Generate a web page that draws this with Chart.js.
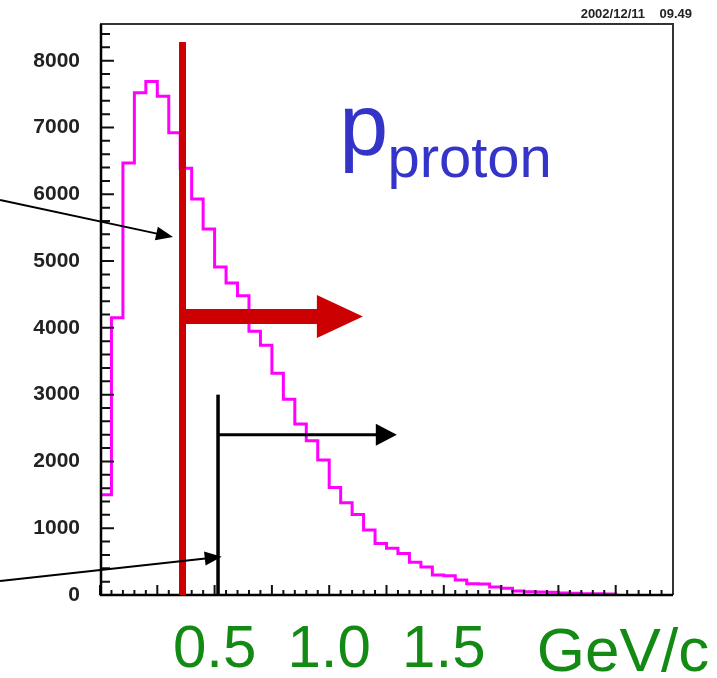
<!DOCTYPE html>
<html>
<head>
<meta charset="utf-8">
<title>p proton</title>
<script src="https://cdn.jsdelivr.net/npm/chart.js@4.4.1/dist/chart.umd.min.js"></script>
<style>
  html, body { margin: 0; padding: 0; background: #fff; overflow: hidden; }
  canvas { display: block; }
</style>
</head>
<body>
<canvas id="protonChart" width="717" height="678"></canvas>
<script>
// proton momentum spectrum, 0.05 GeV/c bins starting at 0
const binWidth = 0.05;
const counts = [1500, 4150, 6470, 7520, 7690, 7470, 6920, 6390, 5930, 5480,
                4910, 4670, 4480, 3950, 3740, 3320, 2930, 2560, 2310, 2020,
                1610, 1380, 1205, 975, 770, 700, 620, 490, 420, 300,
                290, 225, 170, 165, 120, 100, 60, 50, 45, 40,
                30, 25, 20, 20, 15];

const xRange = [0, 2.5];
const yRange = [0, 8550];
const xTickLabels = [0.5, 1.0, 1.5];
const yTickLabels = [0, 1000, 2000, 3000, 4000, 5000, 6000, 7000, 8000];
const xStep = { minor: 0.05, major: 0.25 };
const yStep = { minor: 200, major: 1000 };

// cuts drawn on top (GeV/c, counts)
const redCut = { x: 0.36, top: 8280, arrowY: 4170, arrowTip: 1.147 };
const blackCut = { x: 0.515, top: 3000, arrowY: 2400, arrowTip: 1.295 };
// pointers coming in from the left
const pointers = [
    { from: [-0.436, 5914], to: [0.3185, 5360] },
    { from: [-0.436, 210], to: [0.531, 573] }
];

const green = '#138a13';
const blue = '#3434c8';
const sans = '"Liberation Sans", Arial, sans-serif';

// step points: left edge of every bin, closed down to zero at both ends
let histPoints = [{ x: 0, y: 0 }];
counts.forEach((c, i) => histPoints.push({ x: i * binWidth, y: c }));
histPoints.push({ x: counts.length * binWidth, y: 0 });

function arrowHead(ctx, x0, y0, x1, y1, len, half) {
    const ang = Math.atan2(y1 - y0, x1 - x0);
    ctx.beginPath();
    ctx.moveTo(x1, y1);
    ctx.lineTo(x1 - len * Math.cos(ang) + half * Math.sin(ang), y1 - len * Math.sin(ang) - half * Math.cos(ang));
    ctx.lineTo(x1 - len * Math.cos(ang) - half * Math.sin(ang), y1 - len * Math.sin(ang) + half * Math.cos(ang));
    ctx.closePath();
    ctx.fill();
}

// frame with inward ticks, like ROOT
const rootFrame = {
    id: 'rootFrame',
    afterDatasetsDraw(chart) {
        const { ctx, chartArea: a, scales: { x, y } } = chart;
        ctx.save();
        ctx.strokeStyle = '#111';
        ctx.lineWidth = 2;
        ctx.beginPath();
        const nx = Math.round((xRange[1] - xRange[0]) / xStep.minor);
        const every = Math.round(xStep.major / xStep.minor);
        for (let k = 0; k <= nx; k++) {
            const px = x.getPixelForValue(xRange[0] + k * xStep.minor);
            const len = k % every === 0 ? 10 : 5;
            ctx.moveTo(px, a.bottom);
            ctx.lineTo(px, a.bottom - len);
        }
        const ny = Math.floor((yRange[1] - yRange[0]) / yStep.minor);
        const everyY = Math.round(yStep.major / yStep.minor);
        for (let k = 0; k <= ny; k++) {
            const py = y.getPixelForValue(yRange[0] + k * yStep.minor);
            const len = k % everyY === 0 ? 14 : 10;
            ctx.moveTo(a.left, py);
            ctx.lineTo(a.left + len, py);
        }
        ctx.stroke();

        ctx.strokeStyle = '#333';
        ctx.lineWidth = 2;
        ctx.beginPath();
        ctx.moveTo(a.left, a.top);
        ctx.lineTo(a.right, a.top);
        ctx.lineTo(a.right, a.bottom);
        ctx.stroke();

        ctx.strokeStyle = '#000';
        ctx.lineWidth = 2.5;
        ctx.beginPath();
        ctx.moveTo(a.left + 1, a.top);
        ctx.lineTo(a.left + 1, a.bottom);
        ctx.lineTo(a.right, a.bottom);
        ctx.stroke();
        ctx.restore();
    }
};

// cut lines, arrows and labels
const overlays = {
    id: 'overlays',
    afterDraw(chart) {
        const { ctx, chartArea: a, scales: { x, y } } = chart;
        ctx.save();

        // red cut
        ctx.fillStyle = '#cc0000';
        const rx = x.getPixelForValue(redCut.x);
        ctx.fillRect(rx - 3.5, y.getPixelForValue(redCut.top), 7, a.bottom - y.getPixelForValue(redCut.top));
        const ry = y.getPixelForValue(redCut.arrowY);
        const rtip = x.getPixelForValue(redCut.arrowTip);
        ctx.fillRect(rx, ry - 7.5, rtip - 44 - rx, 15);
        arrowHead(ctx, rx, ry, rtip, ry, 46, 21.5);

        // black cut
        ctx.fillStyle = '#000';
        ctx.strokeStyle = '#000';
        const bx = x.getPixelForValue(blackCut.x);
        ctx.fillRect(bx - 1.75, y.getPixelForValue(blackCut.top), 3.5, a.bottom - y.getPixelForValue(blackCut.top));
        const by = y.getPixelForValue(blackCut.arrowY);
        const btip = x.getPixelForValue(blackCut.arrowTip);
        ctx.lineWidth = 3;
        ctx.beginPath();
        ctx.moveTo(bx, by);
        ctx.lineTo(btip - 18, by);
        ctx.stroke();
        arrowHead(ctx, bx, by, btip, by, 21, 11);

        // pointers from the left
        ctx.lineWidth = 2;
        pointers.forEach(p => {
            const x0 = x.getPixelForValue(p.from[0]), y0 = y.getPixelForValue(p.from[1]);
            const x1 = x.getPixelForValue(p.to[0]), y1 = y.getPixelForValue(p.to[1]);
            const ang = Math.atan2(y1 - y0, x1 - x0);
            ctx.beginPath();
            ctx.moveTo(x0, y0);
            ctx.lineTo(x1 - 14 * Math.cos(ang), y1 - 14 * Math.sin(ang));
            ctx.stroke();
            arrowHead(ctx, x0, y0, x1, y1, 17, 7);
        });

        // p_proton
        ctx.fillStyle = blue;
        ctx.textBaseline = 'alphabetic';
        ctx.textAlign = 'left';
        ctx.font = '88px ' + sans;
        ctx.fillText('p', x.getPixelForValue(1.044), y.getPixelForValue(6588));
        ctx.font = '58px ' + sans;
        ctx.fillText('proton', x.getPixelForValue(1.254), y.getPixelForValue(6258));

        // axis unit
        ctx.fillStyle = green;
        ctx.font = '62px ' + sans;
        ctx.fillText('GeV/c', x.getPixelForValue(1.906), 671);

        // date stamp
        ctx.fillStyle = '#222';
        ctx.font = 'bold 13px ' + sans;
        ctx.textAlign = 'right';
        ctx.fillText('2002/12/11', 645, 18);
        ctx.fillText('09.49', 692, 18);
        ctx.restore();
    }
};

new Chart(document.getElementById('protonChart'), {
    type: 'line',
    data: {
        datasets: [{
            label: 'p proton',
            data: histPoints,
            stepped: 'before',
            borderColor: '#ff00ff',
            borderWidth: 3,
            pointRadius: 0,
            fill: false
        }]
    },
    options: {
        responsive: false,
        animation: false,
        events: [],
        layout: { padding: { top: 24, right: 44, left: 0, bottom: 0 } },
        plugins: { legend: { display: false }, tooltip: { enabled: false } },
        scales: {
            x: {
                type: 'linear',
                min: xRange[0],
                max: xRange[1],
                grid: { display: false, drawTicks: false },
                border: { display: false },
                afterBuildTicks: s => { s.ticks = xTickLabels.map(v => ({ value: v })); },
                afterFit: s => { s.height = 83; s.paddingLeft = 0; s.paddingRight = 0; },
                ticks: {
                    autoSkip: false,
                    maxRotation: 0,
                    padding: 19,
                    color: green,
                    font: { family: sans, size: 60 },
                    callback: v => v.toFixed(1)
                }
            },
            y: {
                min: yRange[0],
                max: yRange[1],
                grid: { display: false, drawTicks: false },
                border: { display: false },
                afterBuildTicks: s => { s.ticks = yTickLabels.map(v => ({ value: v })); },
                afterFit: s => { s.width = 100; s.paddingTop = 0; s.paddingBottom = 0; },
                ticks: {
                    padding: 20,
                    color: '#222',
                    font: { family: sans, size: 21, weight: 'bold' },
                    callback: v => String(v)
                }
            }
        }
    },
    plugins: [rootFrame, overlays]
});
</script>
</body>
</html>
